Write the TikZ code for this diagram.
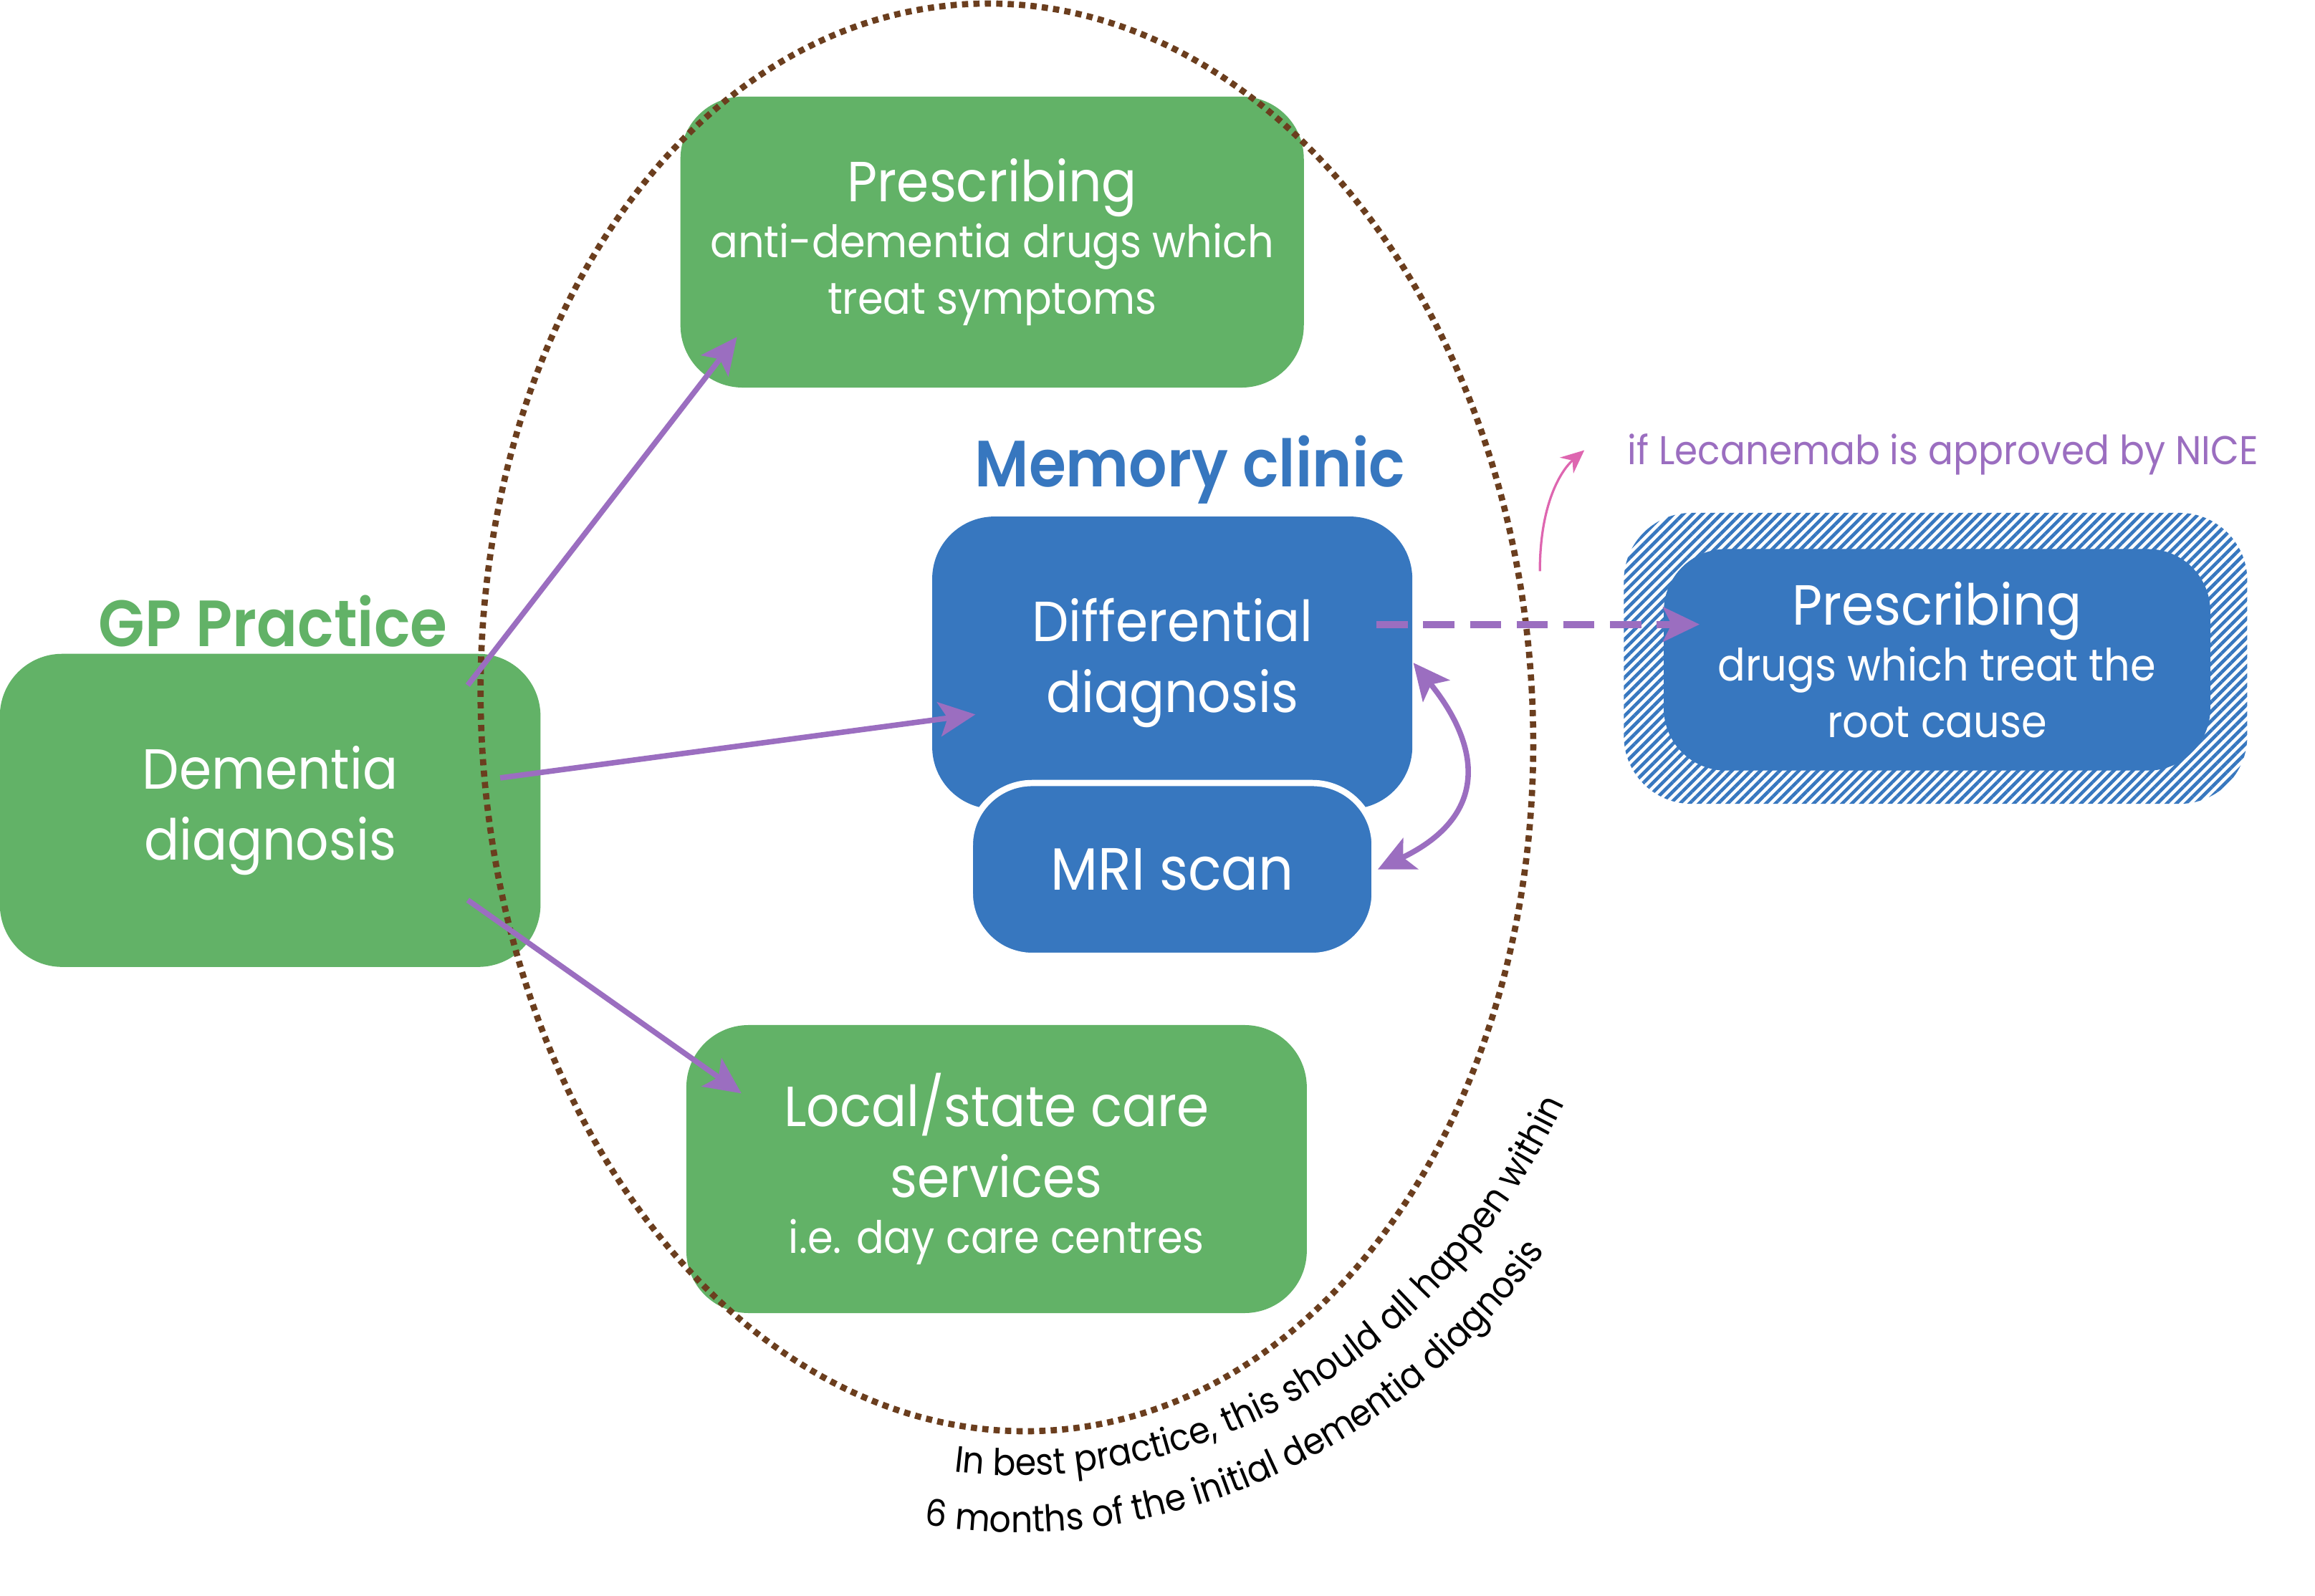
\documentclass[tikz,border=0pt]{standalone}
\usepackage{fontspec}
\setmainfont{Poppins}[FakeStretch=0.92, BoldFont={* SemiBold}]
\usetikzlibrary{arrows.meta, positioning, patterns.meta, decorations.text}
\definecolor{gpgreen}{RGB}{98, 178, 103}
\definecolor{clinicblue}{RGB}{55, 119, 191}
\definecolor{pathpurple}{RGB}{155, 110, 192}
\definecolor{ringbrown}{RGB}{107, 62, 30}
\definecolor{notepink}{RGB}{222, 102, 176}
\newcommand{\headfont}{\fontsize{10.9}{13.7}\selectfont}
\newcommand{\smallfont}{\fontsize{8.6}{10.8}\selectfont}
\newcommand{\labelfont}{\bfseries\fontsize{12.6}{14}\selectfont}
\newcommand{\curvefont}{\fontsize{7.1}{8}\selectfont}
\newcommand{\headline}[1]{{\headfont\spaceskip=0pt\xspaceskip=0pt\centering #1\par}}
\newcommand{\subline}[1]{{\smallfont\spaceskip=0pt\xspaceskip=0pt\centering #1\par}}

\begin{document}
\begin{tikzpicture}[x=0.01cm, y=-0.01cm,
    >={Stealth[length=7pt, width=6.6pt, inset=1.6pt]},
    box/.style={rounded corners=12pt, text=white, align=center, inner sep=0pt, font=\headfont},
    greenbox/.style={box, fill=gpgreen},
    bluebox/.style={box, fill=clinicblue},
    flow/.style={pathpurple, line width=1.05pt, ->},
    ring/.style={ringbrown, line width=1.2pt, dash pattern=on 1.2pt off 1pt}]
  \useasboundingbox (0,0) rectangle (1568,1081);

  % GP practice
  \node[greenbox, minimum width=3.66cm, minimum height=2.12cm, text width=3.4cm] (gp) at (183,549) {\headline{Dementia}\headline{diagnosis}};
  \node[text=gpgreen, font=\labelfont] (gplabel) at (185,421) {GP Practice};

  % green outcomes
  \node[greenbox, minimum width=4.22cm, minimum height=1.97cm, text width=4cm] (rx) at (672,164) {\headline{Prescribing}\subline{anti-dementia drugs which}\subline{treat symptoms}};
  \node[greenbox, minimum width=4.2cm, minimum height=1.95cm, text width=4cm] (care) at (675,792) {\headline{Local/state care}\headline{services}\subline{i.e. day care centres}};

  % memory clinic
  \node[text=clinicblue, font=\labelfont] (mclabel) at (806,318) {Memory clinic};
  \node[bluebox, minimum width=3.25cm, minimum height=1.98cm, text width=3cm] (diff) at (794,449) {\headline{Differential}\headline{diagnosis}};
  \node[bluebox, draw=white, line width=1.2pt, minimum width=2.74cm, minimum height=1.17cm, font=\fontsize{11.5}{13.7}\selectfont] (mri) at (794,589) {MRI scan};

  % new drugs
  \node[box, minimum width=4.22cm, minimum height=1.97cm, rounded corners=13pt, pattern={Lines[angle=45, distance=1.3pt, line width=0.65pt]}, pattern color=clinicblue] (hatch) at (1311,446) {};
  \node[bluebox, minimum width=3.7cm, minimum height=1.5cm, text width=3.5cm] (rxnew) at (1312,447) {\headline{Prescribing}\subline{drugs which treat the}\subline{root cause}};
  \node[text=pathpurple, font=\fontsize{7.75}{9}\selectfont] (lecan) at (1316,308) {if Lecanemab is approved by NICE};

  % six month ring
  \draw[ring, rotate around={3.3:(682,486)}] (682,486) ellipse[x radius=356, y radius=484];
  \path[decorate, decoration={text along path, text align=left, text={|\curvefont|In best practice, this should all happen within}}]
    (646,997) arc[start angle=96, end angle=5, x radius=420, y radius=480];
  \path[decorate, decoration={text along path, text align=left, text={|\curvefont|6 months of the initial dementia diagnosis}}]
    (626,1033) arc[start angle=98, end angle=5, x radius=460, y radius=518];

  % arrows
  \draw[flow] ([shift={(-50,22)}]gp.north east) -- ([shift={(39,-35)}]rx.south west);
  \draw[flow] ([shift={(-28,-22)}]gp.east) -- ([shift={(30,35)}]diff.west);
  \draw[flow] ([shift={(-50,-46)}]gp.south east) -- ([shift={(38,47)}]care.north west);
  \draw[flow, line width=1.35pt, dash pattern=on 6pt off 3pt] ([shift={(-25,-26)}]diff.east) -- ([shift={(25,-24)}]rxnew.west);
  \draw[flow, <->] (diff.east) .. controls +(43,53) and +(79,-38) .. (mri.east);

  \coordinate (notefoot) at (1043,387);
  \draw[notepink, line width=0.45pt, -{Stealth[length=4.5pt, width=4pt]}] (notefoot) .. controls (1043,340) and (1058,318) .. ([xshift=-0.17cm, yshift=0.03cm]lecan.west);
\end{tikzpicture}
\end{document}
